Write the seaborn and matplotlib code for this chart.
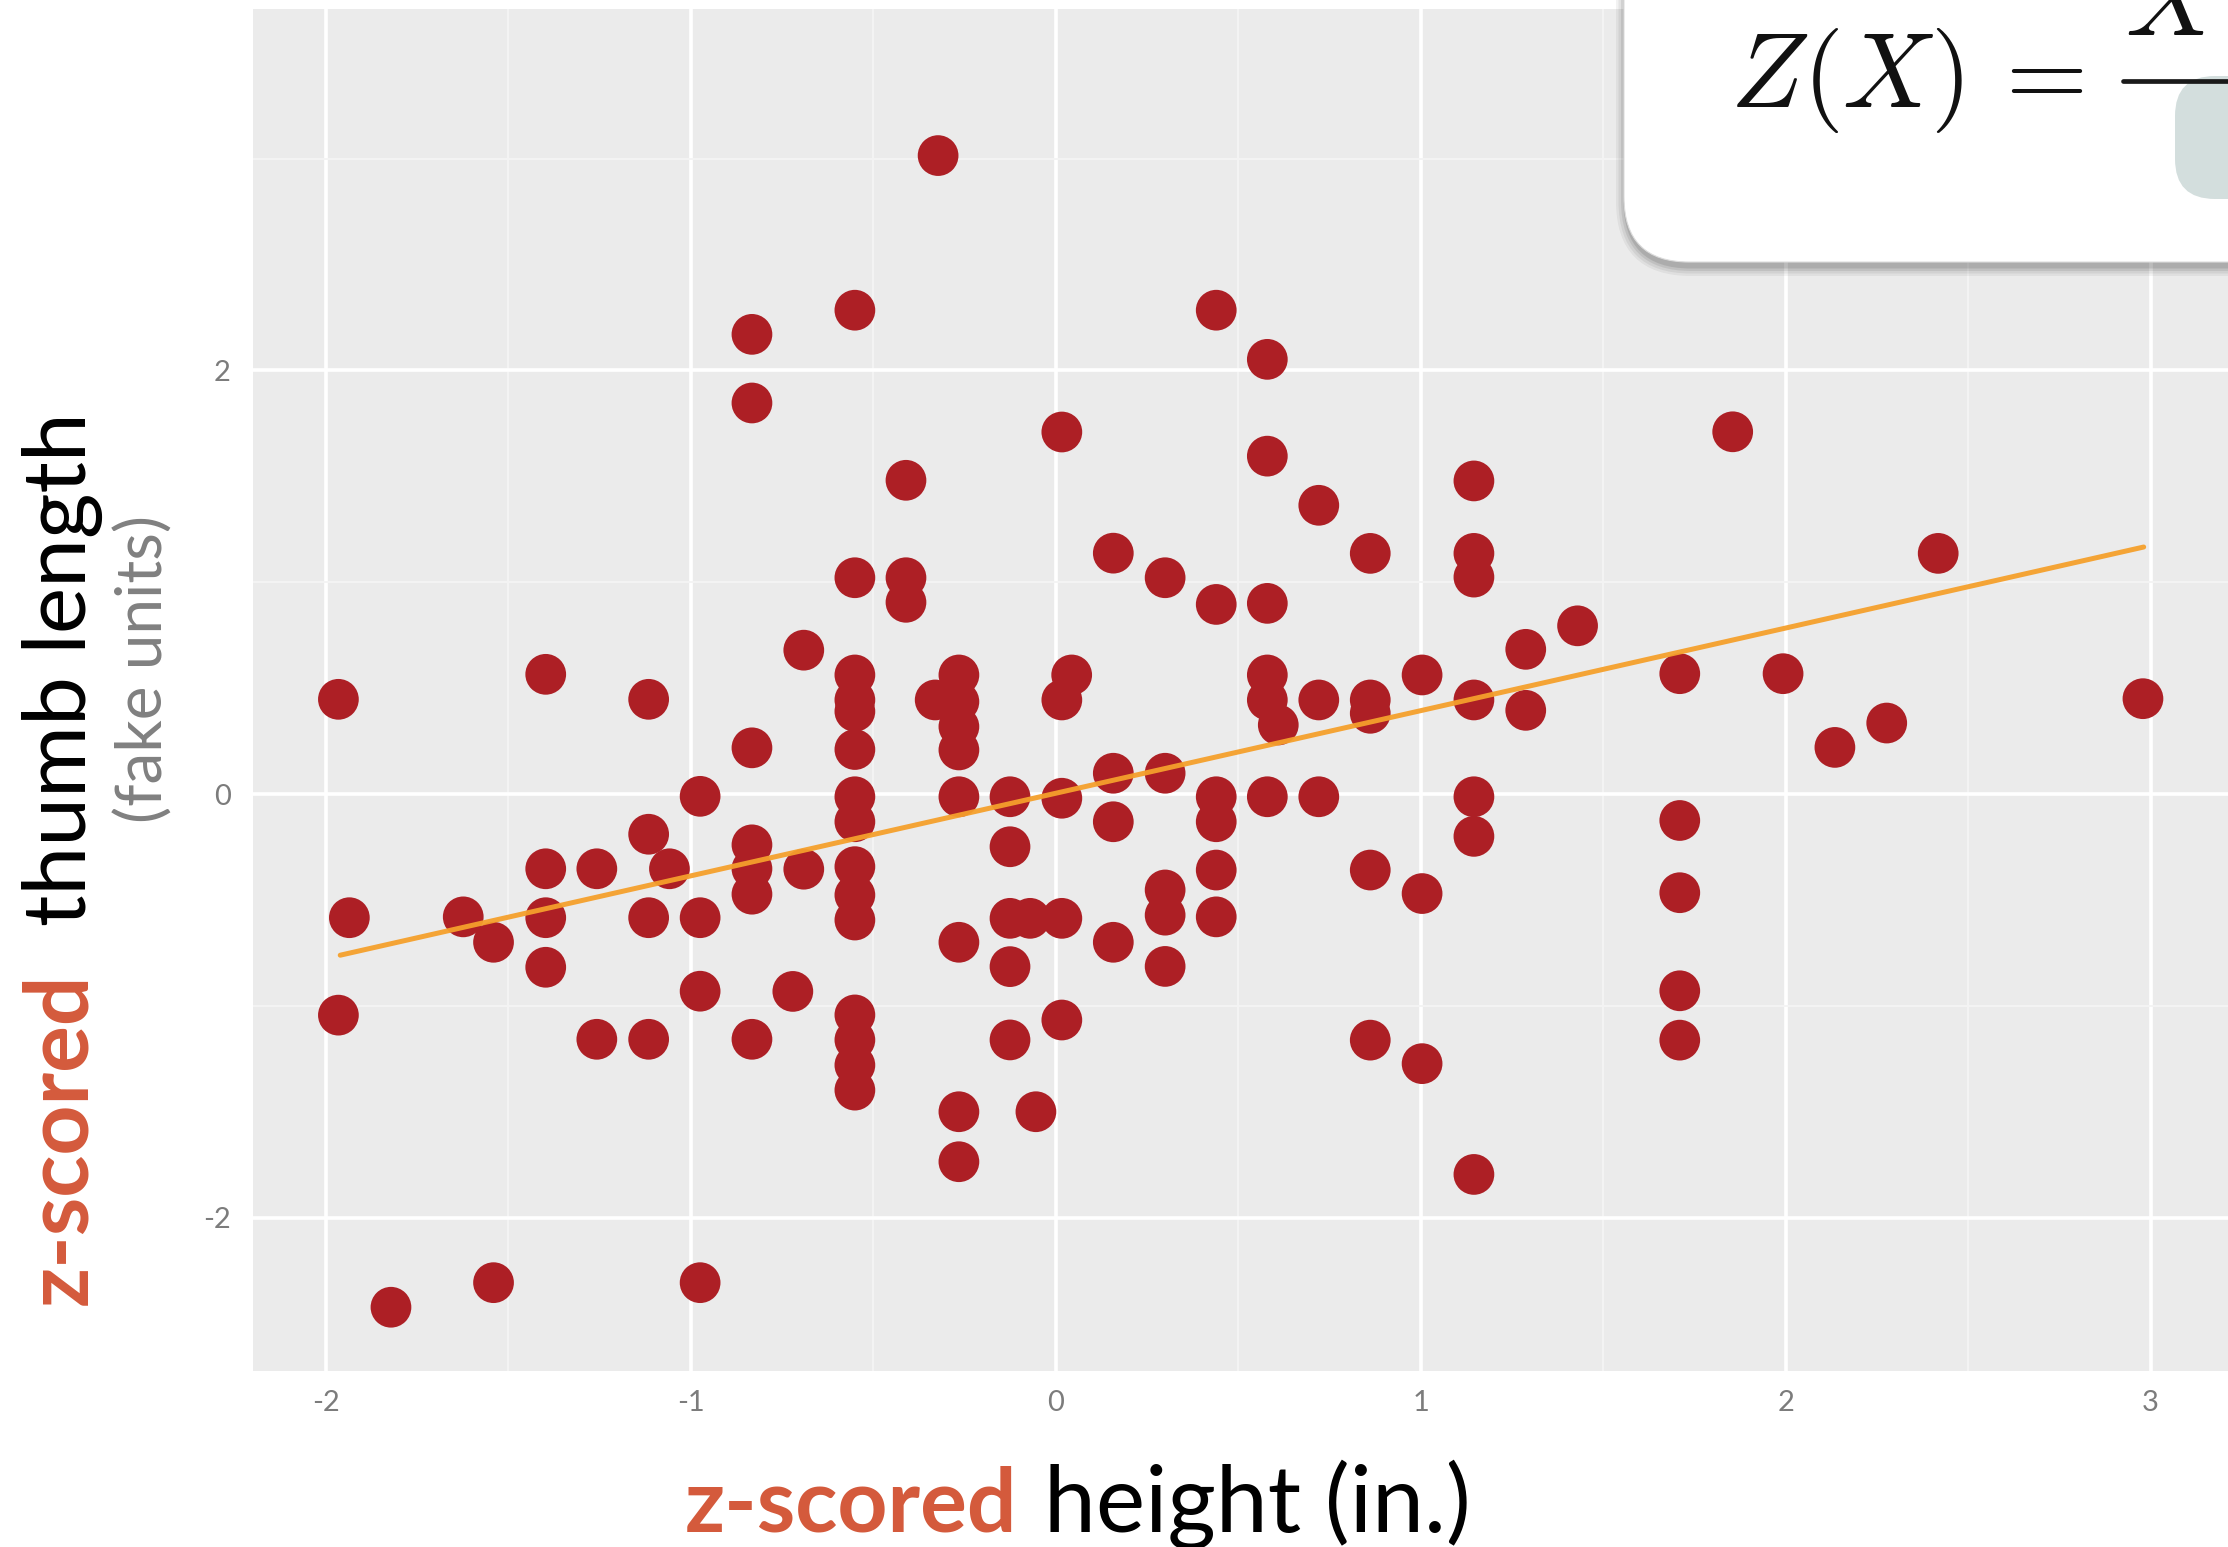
import matplotlib
matplotlib.use("Agg")
import matplotlib.pyplot as plt
import seaborn as sns
from matplotlib.patches import FancyBboxPatch
from matplotlib.lines import Line2D
from matplotlib.transforms import IdentityTransform

# z-scored height (x) and z-scored thumb length (y)
height_z = [
    -1.965, -1.965, -1.935, -1.821, -1.623, -1.540, -1.540,
    -1.397, -1.397, -1.397, -1.397, -1.257, -1.257,
    -1.115, -1.115, -1.115, -1.115, -1.058,
    -0.974, -0.974, -0.974, -0.974,
    -0.832, -0.832, -0.832, -0.832, -0.832, -0.832, -0.832,
    -0.690, -0.690, -0.720,
    -0.550, -0.550, -0.550, -0.550, -0.550, -0.550, -0.550, -0.550,
    -0.550, -0.550, -0.550, -0.550, -0.550, -0.550, -0.550,
    -0.410, -0.410, -0.410, -0.330, -0.322,
    -0.265, -0.265, -0.265, -0.265, -0.265, -0.265, -0.265, -0.265,
    -0.125, -0.125, -0.125, -0.125, -0.125, -0.070, -0.054,
    0.017, 0.017, 0.017, 0.017, 0.017, 0.044,
    0.158, 0.158, 0.158, 0.158,
    0.300, 0.300, 0.300, 0.300, 0.300,
    0.440, 0.440, 0.440, 0.440, 0.440, 0.440,
    0.580, 0.580, 0.580, 0.580, 0.580, 0.580, 0.610,
    0.721, 0.721, 0.721,
    0.862, 0.862, 0.862, 0.862, 0.862,
    1.004, 1.004, 1.004,
    1.146, 1.146, 1.146, 1.146, 1.146, 1.146, 1.146,
    1.288, 1.288, 1.430,
    1.710, 1.710, 1.710, 1.710, 1.710,
    1.855, 1.993, 2.135, 2.277, 2.418, 2.979,
]
thumb_z = [
    0.447, -1.044, -0.584, -2.423, -0.580, -0.700, -2.307,
    0.565, -0.353, -0.584, -0.818, -0.353, -1.158,
    0.447, -0.190, -0.584, -1.158, -0.353,
    -0.011, -0.584, -0.931, -2.307,
    2.170, 1.846, 0.218, -0.240, -0.353, -0.473, -1.158,
    0.679, -0.355, -0.932,
    2.284, 1.021, 0.562, 0.444, 0.390, 0.210, -0.013, -0.131,
    -0.343, -0.477, -0.595, -1.043, -1.161, -1.280, -1.398,
    1.481, 1.021, 0.905, 0.444, 3.014,
    0.562, 0.436, 0.318, 0.208, -0.013, -0.700, -1.500, -1.736,
    -0.013, -0.249, -0.587, -0.815, -1.161, -0.587, -1.500,
    1.709, 0.444, -0.020, -0.587, -1.067, 0.562,
    1.137, 0.098, -0.131, -0.700,
    1.021, 0.098, -0.453, -0.572, -0.814,
    2.284, 0.895, -0.013, -0.131, -0.359, -0.580,
    2.052, 1.595, 0.900, 0.562, 0.444, -0.013, 0.326,
    1.363, 0.444, -0.013,
    1.136, 0.444, 0.381, -0.359, -1.162,
    0.562, -0.470, -1.273,
    1.478, 1.136, 1.024, 0.444, -0.013, -0.200, -1.796,
    0.683, 0.395, 0.794,
    0.568, -0.125, -0.466, -0.929, -1.162,
    1.710, 0.568, 0.220, 0.335, 1.136, 0.450,
]

# least-squares line as it appears in the picture (ends at the data range)
fit_x = [-1.960, 2.981]
fit_y = [-0.761, 1.166]

x_ticks = [-2, -1, 0, 1, 2, 3]
x_tick_labels = ["-2", "-1", "0", "1", "2", "3"]
x_minor = [-1.5, -0.5, 0.5, 1.5, 2.5]
y_ticks = [-2, 0, 2]
y_tick_labels = ["-2", "0", "2"]
y_minor = [-1, 1, 3]

W, H, DPI = 2228, 1547, 100
POINT_RED = "#AD1F25"
LINE_ORANGE = "#F5A02C"
ACCENT = "#D45A3C"

sns.set_style("darkgrid", {"axes.facecolor": "#EBEBEB", "grid.color": "white",
                           "axes.edgecolor": "#EBEBEB"})
plt.rcParams["font.family"] = ["Lato", "DejaVu Sans"]

fig = plt.figure(figsize=(W / DPI, H / DPI), dpi=DPI)
ax = fig.add_axes([253 / W, 1 - 1371 / H, 1 - 253 / W, (1371 - 9) / H])

sns.scatterplot(x=height_z, y=thumb_z, ax=ax, s=860, color=POINT_RED,
                edgecolor="none", linewidth=0, legend=False)
sns.lineplot(x=fit_x, y=fit_y, ax=ax, color=LINE_ORANGE, lw=3.6, alpha=0.95)

ax.set_xlim(-2.199, 3.212)
ax.set_ylim(-2.724, 3.706)
ax.set_xticks(x_ticks)
ax.set_xticklabels(x_tick_labels)
ax.set_yticks(y_ticks)
ax.set_yticklabels(y_tick_labels)
ax.set_xticks(x_minor, minor=True)
ax.set_yticks(y_minor, minor=True)
ax.grid(which="major", color="white", lw=2.6)
ax.grid(which="minor", color="#F4F4F4", lw=1.4)
ax.set_axisbelow(True)
ax.tick_params(which="major", length=7, width=2, color="#8A8A8A",
               labelcolor="#7C7C7C", labelsize=21)
ax.tick_params(axis="x", pad=7)
ax.tick_params(axis="y", pad=9)
ax.tick_params(which="minor", length=0)
for s in ax.spines.values():
    s.set_visible(False)
ax.set_xlabel("")
ax.set_ylabel("")

# axis titles as slide text
fig.canvas.draw()
r = fig.canvas.get_renderer()

t1 = fig.text(685 / W, 1 - 1532 / H, "z-scored", fontsize=63, weight="bold",
              color=ACCENT, ha="left", va="baseline")
bb = t1.get_window_extent(r)
fig.text((bb.x1 + 27) / W, 1 - 1532 / H, "height (in.)", fontsize=67,
         color="black", ha="left", va="baseline")

t1 = fig.text(86 / W, 1 - 1305 / H, "z-scored", fontsize=63, weight="bold",
              color=ACCENT, rotation=90, rotation_mode="anchor",
              ha="left", va="baseline")
bb = t1.get_window_extent(r)
t2 = fig.text(86 / W, (bb.y1 + 47) / H, "thumb length", fontsize=63,
              color="black", rotation=90, rotation_mode="anchor",
              ha="left", va="baseline")
bb2 = t2.get_window_extent(r)
fig.text(163 / W, (bb2.y0 + bb2.y1) / 2 / H, "(fake units)", fontsize=46,
         color="#808080", rotation=90, rotation_mode="anchor",
         ha="center", va="baseline")

# formula card in the top right corner
ident = IdentityTransform()
for i, a in enumerate([0.05, 0.06, 0.08, 0.10]):
    g = 10 - 2.5 * i
    fig.add_artist(FancyBboxPatch((1624 - g + 2, H - 262 - g - 4), 800, 600,
                                  boxstyle="round,pad=0,rounding_size=%d" % (65 + g),
                                  transform=ident, facecolor="black",
                                  edgecolor="none", alpha=a))
fig.add_artist(FancyBboxPatch((1624, H - 262), 800, 600,
                              boxstyle="round,pad=0,rounding_size=65",
                              transform=ident, facecolor="white",
                              edgecolor="#DDDDDD", lw=0.8))
fig.add_artist(FancyBboxPatch((2175, H - 199), 300, 123,
                              boxstyle="round,pad=0,rounding_size=40",
                              transform=ident, facecolor="#D3DEDD",
                              edgecolor="none"))
fig.add_artist(Line2D([2123, 2300], [H - 80.7, H - 80.7], transform=ident,
                      color="#1A1A1A", lw=3.4))
fig.text(1730 / W, 1 - 106.7 / H, r"$Z(X)\,=$", fontsize=76,
         math_fontfamily="cm", color="#111111", ha="left", va="baseline")
fig.text(2125 / W, 1 - 35 / H, r"$X$", fontsize=76, math_fontfamily="cm",
         color="#111111", ha="left", va="baseline")

fig.savefig("out.png", dpi=DPI)
